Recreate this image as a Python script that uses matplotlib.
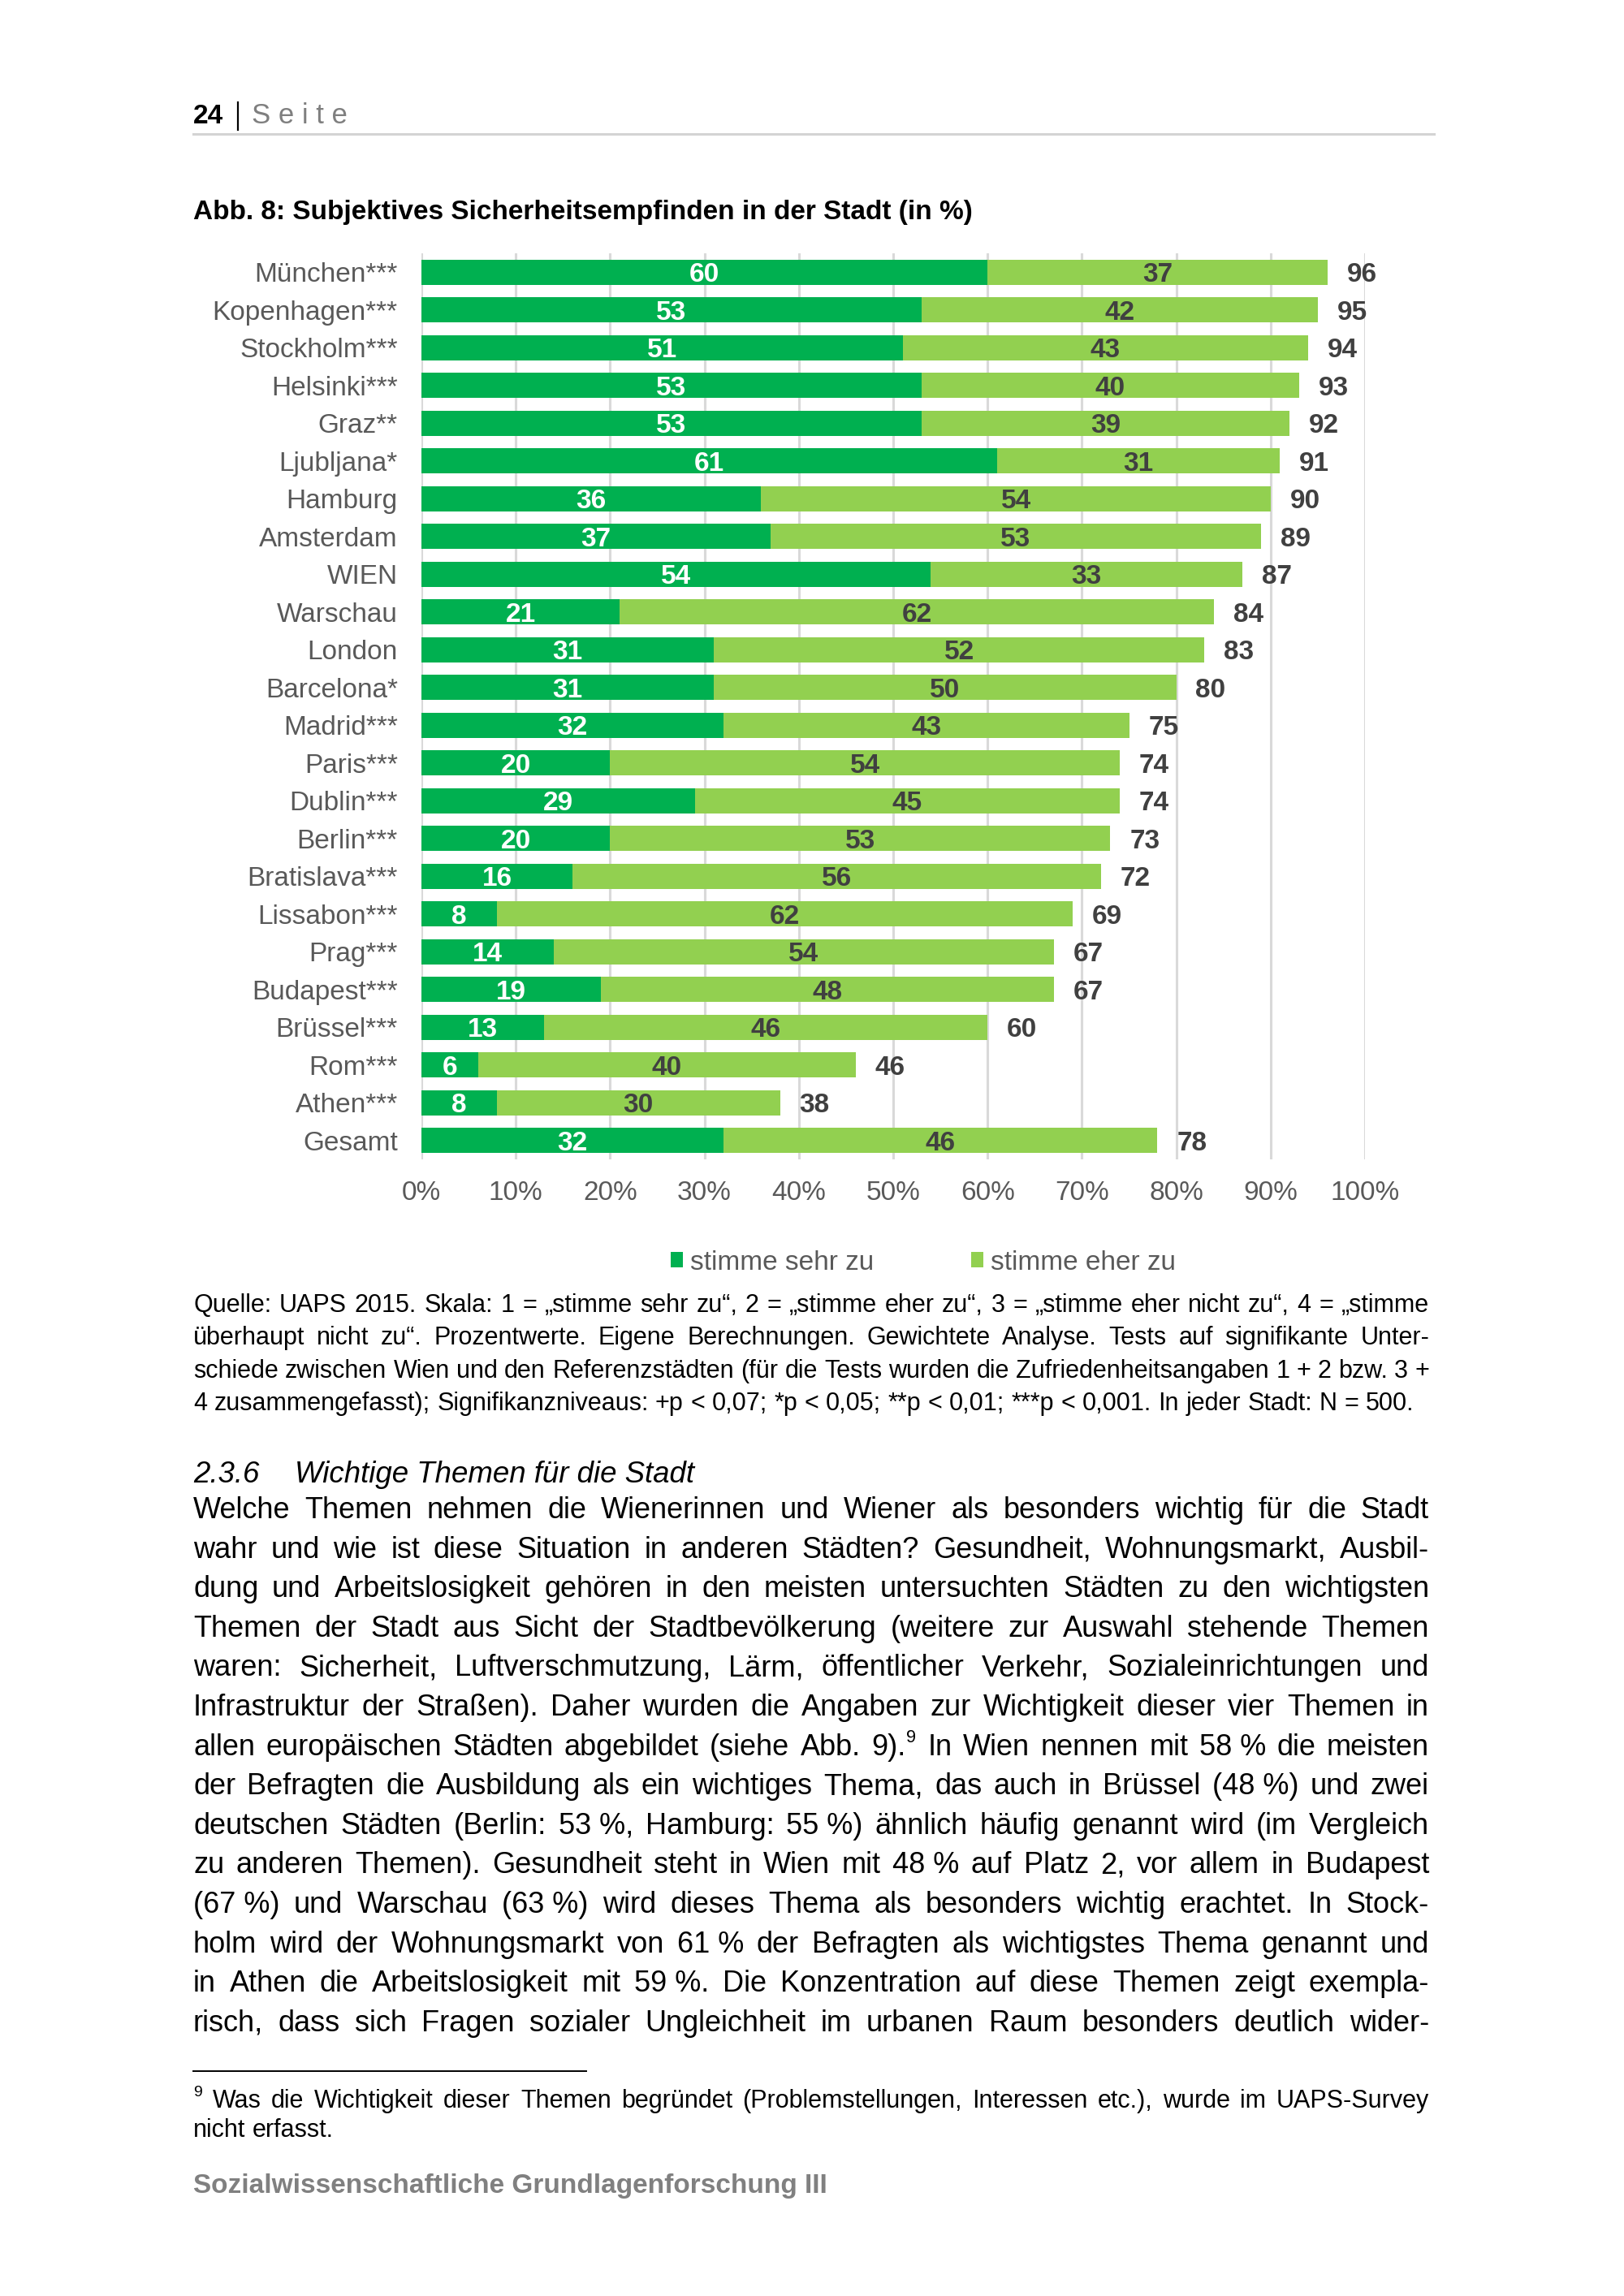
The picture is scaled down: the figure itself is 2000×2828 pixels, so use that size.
import matplotlib
import numpy as np

matplotlib.use("Agg")
import matplotlib.pyplot as plt  # noqa: E402
from matplotlib.lines import Line2D  # noqa: E402

plt.rcParams["font.family"] = ["Liberation Sans", "DejaVu Sans"]

W, H = 2000, 2828
DPI = 200

# --- chart data (Abb. 8) ---------------------------------------------------
cities = [
    "München***", "Kopenhagen***", "Stockholm***", "Helsinki***", "Graz**",
    "Ljubljana*", "Hamburg", "Amsterdam", "WIEN", "Warschau", "London",
    "Barcelona*", "Madrid***", "Paris***", "Dublin***", "Berlin***",
    "Bratislava***", "Lissabon***", "Prag***", "Budapest***", "Brüssel***",
    "Rom***", "Athen***", "Gesamt",
]
sehr_zu = [60, 53, 51, 53, 53, 61, 36, 37, 54, 21, 31, 31, 32, 20, 29, 20,
           16, 8, 14, 19, 13, 6, 8, 32]
eher_zu = [37, 42, 43, 40, 39, 31, 54, 53, 33, 62, 52, 50, 43, 54, 45, 53,
           56, 62, 54, 48, 46, 40, 30, 46]
gesamt = [96, 95, 94, 93, 92, 91, 90, 89, 87, 84, 83, 80, 75, 74, 74, 73,
          72, 69, 67, 67, 60, 46, 38, 78]
x_ticks = [0, 10, 20, 30, 40, 50, 60, 70, 80, 90, 100]
x_tick_labels = ["0%", "10%", "20%", "30%", "40%", "50%", "60%", "70%",
                 "80%", "90%", "100%"]
series_labels = ["stimme sehr zu", "stimme eher zu"]

# --- page text ---------------------------------------------------------------
title = "Abb. 8: Subjektives Sicherheitsempfinden in der Stadt (in %)"
caption_lines = [
    "Quelle: UAPS 2015. Skala: 1 = „stimme sehr zu“, 2 = „stimme eher zu“, "
    "3 = „stimme eher nicht zu“, 4 = „stimme",
    "überhaupt nicht zu“. Prozentwerte. Eigene Berechnungen. Gewichtete "
    "Analyse. Tests auf signifikante Unter-",
    "schiede zwischen Wien und den Referenzstädten (für die Tests wurden die "
    "Zufriedenheitsangaben 1 + 2 bzw. 3 +",
    "4 zusammengefasst); Signifikanzniveaus: +p < 0,07; *p < 0,05; "
    "**p < 0,01; ***p < 0,001. In jeder Stadt: N = 500.",
]
heading_no = "2.3.6"
heading = "Wichtige Themen für die Stadt"
body_lines = [
    "Welche Themen nehmen die Wienerinnen und Wiener als besonders wichtig für die Stadt",
    "wahr und wie ist diese Situation in anderen Städten? Gesundheit, Wohnungsmarkt, Ausbil-",
    "dung und Arbeitslosigkeit gehören in den meisten untersuchten Städten zu den wichtigsten",
    "Themen der Stadt aus Sicht der Stadtbevölkerung (weitere zur Auswahl stehende Themen",
    "waren: Sicherheit, Luftverschmutzung, Lärm, öffentlicher Verkehr, Sozialeinrichtungen und",
    "Infrastruktur der Straßen). Daher wurden die Angaben zur Wichtigkeit dieser vier Themen in",
    "allen europäischen Städten abgebildet (siehe Abb. 9).^9 In Wien nennen mit 58\u00a0% die meisten",
    "der Befragten die Ausbildung als ein wichtiges Thema, das auch in Brüssel (48\u00a0%) und zwei",
    "deutschen Städten (Berlin: 53\u00a0%, Hamburg: 55\u00a0%) ähnlich häufig genannt wird (im Vergleich",
    "zu anderen Themen). Gesundheit steht in Wien mit 48\u00a0% auf Platz 2, vor allem in Budapest",
    "(67\u00a0%) und Warschau (63\u00a0%) wird dieses Thema als besonders wichtig erachtet. In Stock-",
    "holm wird der Wohnungsmarkt von 61\u00a0% der Befragten als wichtigstes Thema genannt und",
    "in Athen die Arbeitslosigkeit mit 59\u00a0%. Die Konzentration auf diese Themen zeigt exempla-",
    "risch, dass sich Fragen sozialer Ungleichheit im urbanen Raum besonders deutlich wider-",
]
footnote_lines = [
    "Was die Wichtigkeit dieser Themen begründet (Problemstellungen, Interessen etc.), wurde im UAPS-Survey",
    "nicht erfasst.",
]
footer = "Sozialwissenschaftliche Grundlagenforschung III"

DARK = "#00B050"
LIGHT = "#92D050"
LABEL_GREY = "#595959"
VALUE_GREY = "#404040"
GRID = "#D9D9D9"

LEFT, RIGHT = 238, 1760

fig = plt.figure(figsize=(W / DPI, H / DPI), dpi=DPI)
renderer = fig.canvas.get_renderer()


def fx(px):
    return px / W


def fy(py):
    return 1 - py / H


def pt2px(pt):
    return pt * DPI / 72


def place_words(line, y, size, x0=LEFT, x1=RIGHT, justify=True, **kw):
    """Lay out one line word by word, spreading the gaps to fill x0..x1."""
    items = []
    for word in line.split(" "):
        base, _, sup = word.partition("^")
        t = fig.text(0, fy(y), base, fontsize=size, va="baseline", ha="left", **kw)
        bw = t.get_window_extent(renderer).width
        s, sw = None, 0
        if sup:
            s = fig.text(0, fy(y - pt2px(size) * 0.42), sup, fontsize=size * 0.6,
                         va="baseline", ha="left", **kw)
            sw = s.get_window_extent(renderer).width + 2
        items.append((t, s, bw, sw))
    total = sum(bw + sw for _, _, bw, sw in items)
    if justify and len(items) > 1:
        gap = (x1 - x0 - total) / (len(items) - 1)
    else:
        gap = pt2px(size) * 0.278
    x = x0
    for t, s, bw, sw in items:
        t.set_x(fx(x))
        if s is not None:
            s.set_x(fx(x + bw + 1))
        x += bw + sw + gap


# --- page header -------------------------------------------------------------
fig.text(fx(LEFT), fy(152), "24", fontsize=12, fontweight="bold", va="baseline")
fig.add_artist(Line2D([fx(293), fx(293)], [fy(126), fy(160)], color="black", lw=0.8))
fig.text(fx(310), fy(152), "S e i t e", fontsize=12.5, color="#7F7F7F", va="baseline")
fig.add_artist(Line2D([fx(LEFT), fx(1766)], [fy(165), fy(165)], color="#D4D4D4", lw=1.1))

fig.text(fx(LEFT), fy(270), title, fontsize=12, fontweight="bold", va="baseline")

# --- chart -------------------------------------------------------------------
ax = fig.add_axes([fx(519), fy(1428), (1681 - 519) / W, (1428 - 312) / H])
y = np.arange(len(cities))
sehr = np.array(sehr_zu)
total = np.array(gesamt)
bars_dark = ax.barh(y, sehr, height=0.67, color=DARK, label=series_labels[0])
bars_light = ax.barh(y, total - sehr, left=sehr, height=0.67, color=LIGHT,
                     label=series_labels[1])

for i in range(len(cities)):
    ax.text(sehr_zu[i] / 2, i, str(sehr_zu[i]), ha="center", va="center_baseline",
            color="white", fontsize=12, fontweight="bold")
    ax.text(sehr_zu[i] + (gesamt[i] - sehr_zu[i]) / 2, i, str(eher_zu[i]),
            ha="center", va="center_baseline", color=VALUE_GREY, fontsize=12,
            fontweight="bold")
    ax.annotate(str(gesamt[i]), (gesamt[i], i), xytext=(8.6, 0),
                textcoords="offset points", ha="left", va="center_baseline",
                color=VALUE_GREY, fontsize=12, fontweight="bold")

ax.set_xlim(0, 100)
ax.set_ylim(len(cities) - 0.5, -0.5)
ax.set_xticks(x_ticks)
ax.set_xticklabels(x_tick_labels)
ax.set_yticks(y)
ax.set_yticklabels(cities)
ax.xaxis.grid(True, color=GRID, lw=1.1)
ax.set_axisbelow(True)
for spine in ax.spines.values():
    spine.set_visible(False)
ax.tick_params(axis="x", length=0, pad=9.5, labelsize=12, labelcolor=LABEL_GREY)
ax.tick_params(axis="y", length=0, pad=10.5, labelsize=12, labelcolor=LABEL_GREY)

fig.legend([bars_dark, bars_light], series_labels, loc="center",
           bbox_to_anchor=(fx(1137), fy(1555)), ncol=2, frameon=False,
           handlelength=0.45, handleheight=0.5, handletextpad=0.27,
           columnspacing=3.6, fontsize=12, labelcolor=LABEL_GREY)

# --- caption -----------------------------------------------------------------
for k, line in enumerate(caption_lines):
    place_words(line, 1616 + k * 40.3, 11, justify=k < len(caption_lines) - 1)

# --- section text ------------------------------------------------------------
fig.text(fx(LEFT), fy(1826), heading_no, fontsize=13.2, style="italic", va="baseline")
fig.text(fx(363), fy(1826), heading, fontsize=13.2, style="italic", va="baseline")
for k, line in enumerate(body_lines):
    place_words(line, 1870 + k * 48.6, 13)

# --- footnote ----------------------------------------------------------------
fig.add_artist(Line2D([fx(LEFT), fx(722)], [fy(2551), fy(2551)], color="black", lw=0.7))
fig.text(fx(LEFT), fy(2582), "9", fontsize=7, va="baseline")
place_words(footnote_lines[0], 2596, 11, x0=262)
place_words(footnote_lines[1], 2632, 11, justify=False)

fig.text(fx(LEFT), fy(2701), footer, fontsize=12, fontweight="bold",
         color="#808080", va="baseline")

fig.savefig("out.png", dpi=DPI, facecolor="white")
